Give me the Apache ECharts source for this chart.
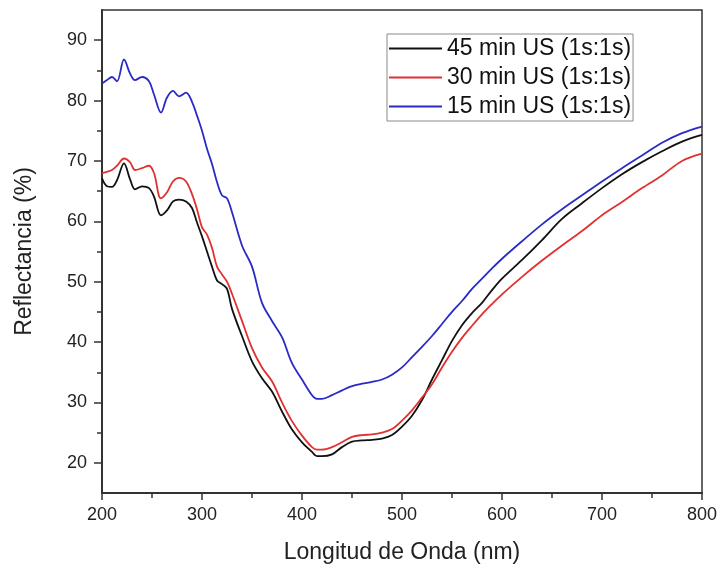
<!DOCTYPE html>
<html>
<head>
<meta charset="utf-8">
<script src="https://cdn.jsdelivr.net/npm/echarts@6/dist/echarts.min.js"></script>
<style>
html,body{margin:0;padding:0;background:#fff;}
#chart{width:721px;height:571px;}
</style>
</head>
<body>
<div id="chart"></div>
<script>
var wavelengths = [200,205,210,215,222,228,233,240,247,252,259,265,271,277,284,290,295,300,305,310,315,320,325,330,340,350,360,370,380,390,400,410,415,420,430,440,450,460,470,480,490,500,510,520,530,540,550,560,570,580,590,600,620,640,660,680,700,720,740,760,780,800];

var min45 = [67.1,65.8,65.7,66.8,69.6,67.0,65.3,65.8,65.5,64.1,61.0,61.8,63.3,63.6,63.3,62.2,59.8,57.5,55.0,52.5,50.2,49.6,48.8,45.5,41.0,36.8,34.0,31.8,28.5,25.5,23.4,21.8,21.1,21.1,21.4,22.6,23.5,23.7,23.8,24.0,24.6,26.0,27.8,30.4,33.8,37.0,40.2,42.8,44.8,46.5,48.6,50.5,53.6,56.9,60.4,63.0,65.5,67.8,69.8,71.6,73.2,74.3];

var min30 = [68.0,68.2,68.5,69.2,70.4,69.8,68.5,68.8,69.2,68.0,63.8,64.8,66.6,67.2,66.6,64.5,62.0,59.0,57.8,55.6,52.5,51.2,50.0,48.0,43.5,39.0,35.8,33.5,30.0,26.9,24.5,22.6,22.2,22.2,22.6,23.4,24.3,24.6,24.7,25.0,25.6,27.0,28.7,30.8,33.0,35.8,38.4,40.7,42.7,44.6,46.3,47.9,50.8,53.5,56.0,58.4,61.0,63.2,65.5,67.6,70.0,71.2];

var min15 = [82.8,83.4,83.9,83.2,86.8,84.5,83.4,83.9,83.2,81.0,78.0,80.5,81.6,80.7,81.3,79.8,77.5,75.0,72.0,69.5,66.5,64.3,63.8,61.5,56.0,52.5,46.5,43.5,40.8,36.5,33.8,31.2,30.6,30.6,31.2,32.0,32.7,33.1,33.4,33.8,34.6,35.8,37.5,39.2,41.0,43.0,45.0,46.8,48.8,50.5,52.2,53.8,56.7,59.5,62.0,64.3,66.6,68.8,70.9,73.0,74.6,75.7];

var seriesNames = ['45 min US (1s:1s)','30 min US (1s:1s)','15 min US (1s:1s)'];
var seriesColors = ['#111111','#e03030','#2a2ac8'];
var yMajorTicks = [20,30,40,50,60,70,80,90];
var yMinorTicks = [25,35,45,55,65,75,85];

function pairs(ys){ return wavelengths.map(function(x,i){ return [x, ys[i]]; }); }
var allValues = [min45, min30, min15];

var FONT = 'Liberation Sans, Arial, sans-serif';
var chart = echarts.init(document.getElementById('chart'), null, {renderer:'canvas'});
chart.setOption({
  animation:false,
  backgroundColor:'#ffffff',
  grid:{left:102, top:10, width:600, height:483, show:true, borderColor:'#333', borderWidth:1.5, containLabel:false},
  legend:{
    orient:'vertical', left:387, top:34,
    data:seriesNames,
    icon:'rect',
    itemWidth:53, itemHeight:2, itemGap:6,
    padding:[3,2,3,2],
    borderColor:'#8a8a8a', borderWidth:1, backgroundColor:'#fff',
    textStyle:{fontFamily:FONT, fontSize:23, color:'#111', lineHeight:22}
  },
  xAxis:{
    type:'value', min:200, max:800, interval:100,
    name:'Longitud de Onda (nm)', nameLocation:'middle', nameGap:48,
    nameTextStyle:{fontFamily:FONT, fontSize:23, color:'#222'},
    axisLine:{show:true, lineStyle:{color:'#333', width:2}},
    axisTick:{show:true, inside:false, length:7, lineStyle:{color:'#333', width:1.5}},
    minorTick:{show:true, splitNumber:2, length:5, lineStyle:{color:'#333', width:1.5}},
    axisLabel:{fontFamily:FONT, fontSize:18, color:'#222', margin:13},
    splitLine:{show:false}, minorSplitLine:{show:false}
  },
  yAxis:[{
    type:'value', min:15, max:95,
    name:'Reflectancia (%)', nameLocation:'middle', nameGap:66, nameRotate:90,
    nameTextStyle:{fontFamily:FONT, fontSize:23, color:'#222'},
    axisLine:{show:true, lineStyle:{color:'#333', width:2}},
    axisTick:{show:true, inside:false, length:8, customValues:yMajorTicks, lineStyle:{color:'#333', width:1.5}},
    axisLabel:{fontFamily:FONT, fontSize:18, color:'#222', margin:15, customValues:yMajorTicks},
    splitLine:{show:false}
  },{
    type:'value', min:15, max:95, position:'left', offset:0,
    axisLine:{show:false},
    axisTick:{show:true, inside:false, length:5, customValues:yMinorTicks, lineStyle:{color:'#333', width:1.5}},
    axisLabel:{show:false},
    splitLine:{show:false}
  }],
  series: seriesNames.map(function(n,i){
    return {
      name:n, type:'line', yAxisIndex:0, showSymbol:false, symbol:'none', smooth:0.35,
      data:pairs(allValues[i]),
      lineStyle:{color:seriesColors[i], width:1.8},
      itemStyle:{color:seriesColors[i]}
    };
  })
});
</script>
</body>
</html>
